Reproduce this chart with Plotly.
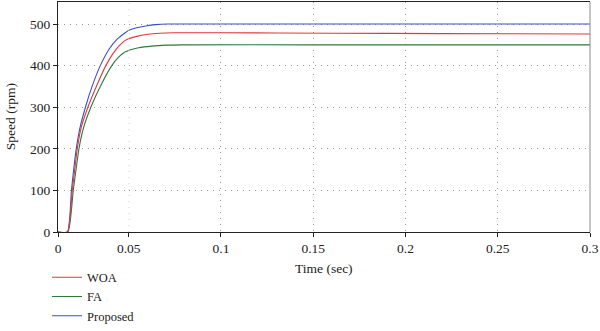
import numpy as np
import plotly.graph_objects as go

# Speed response (rpm) of the three controllers over time (s)
t_woa = [0, 0.0067, 0.0101, 0.0136, 0.0163, 0.0211, 0.0271, 0.0338, 0.0391, 0.0433, 0.0468, 0.05,
         0.0549, 0.0603, 0.0667, 0.0748, 0.1, 0.16, 0.22, 0.3]
woa = [0, 0, 100, 200, 250, 300, 350, 400, 430, 448, 459, 465,
       471, 475.5, 478, 479, 479, 478, 477, 476]

t_fa = [0, 0.0070, 0.0108, 0.0148, 0.0180, 0.0232, 0.0299, 0.0380, 0.0426, 0.0465, 0.05,
        0.0554, 0.0624, 0.0700, 0.0786, 0.15, 0.3]
fa = [0, 0, 100, 200, 250, 300, 350, 400, 420, 431, 437,
      443, 447, 449.3, 450, 450, 450]

t_prop = [0, 0.0067, 0.0095, 0.0129, 0.0155, 0.0194, 0.0241, 0.0299, 0.0362, 0.0413, 0.0463, 0.05,
          0.0543, 0.0592, 0.0646, 0.0711, 0.15, 0.3]
prop = [0, 0, 100, 200, 250, 300, 350, 400, 440, 462, 476, 485,
        491, 495.5, 498.5, 500, 500, 500]

series_names = ["WOA", "FA", "Proposed"]
series_colors = ["#e0393b", "#2e7a3b", "#3a4ec6"]
# WOA is drawn last (on top), but listed first in the legend
draw_order = [1, 2, 0]

x_ticks = [0, 0.05, 0.1, 0.15, 0.2, 0.25, 0.3]
x_ticktext = ["0", "0.05", "0.1", "0.15", "0.2", "0.25", "0.3"]
y_ticks = [0, 100, 200, 300, 400, 500]
y_ticktext = ["0", "100", "200", "300", "400", "500"]

# the time axis is split at 0.05 s: the start-up part is drawn compressed
T_SPLIT = 0.05
T_END = 0.3
SPLIT_FRAC = 71 / 534

FONT = "Liberation Serif"
FS = 13.5
GRID_COLOR = "#9a9a9a"
GRID_DASH = "1px,5px"

all_t = [t_woa, t_fa, t_prop]
all_v = [woa, fa, prop]

fig = go.Figure()
for i in draw_order:
    name, color = series_names[i], series_colors[i]
    t = np.asarray(all_t[i], float)
    v = np.asarray(all_v[i], float)
    m1 = t <= T_SPLIT
    m2 = t >= T_SPLIT
    style = dict(color=color, width=1.1, shape="spline", smoothing=0.5)
    fig.add_trace(go.Scatter(x=t[m1], y=v[m1], mode="lines", name=name,
                             legendgroup=name, legendrank=i + 1, showlegend=True,
                             line=style, xaxis="x", yaxis="y"))
    fig.add_trace(go.Scatter(x=t[m2], y=v[m2], mode="lines", name=name,
                             legendgroup=name, legendrank=i + 1, showlegend=False,
                             line=style, xaxis="x2", yaxis="y"))

axis_common = dict(showline=True, linecolor="#222", linewidth=1, ticks="outside",
                   ticklen=4, tickcolor="#222", zeroline=False, fixedrange=True,
                   ticklabeloverflow="allow",
                   tickfont=dict(family=FONT, size=FS, color="#222"))
grid = dict(showgrid=True, gridcolor=GRID_COLOR, gridwidth=1, griddash=GRID_DASH)

fig.update_layout(
    width=600, height=331,
    margin=dict(l=58, r=8, t=1, b=99),
    paper_bgcolor="white", plot_bgcolor="white",
    xaxis=dict(domain=[0, SPLIT_FRAC], range=[0, T_SPLIT], anchor="y",
               tickvals=x_ticks[:1], ticktext=x_ticktext[:1], mirror=True,
               showgrid=False, **axis_common),
    xaxis2=dict(domain=[SPLIT_FRAC, 1], range=[T_SPLIT, T_END], anchor="y",
                tickvals=x_ticks[1:], ticktext=x_ticktext[1:], mirror=True,
                **grid, **axis_common),
    yaxis=dict(range=[0, 553], anchor="x", tickvals=y_ticks, ticktext=y_ticktext,
               **grid, **axis_common),
    showlegend=True,
    legend=dict(x=-11 / 534, xanchor="left", y=-99 / 231, yanchor="bottom",
                traceorder="normal",
                bgcolor="rgba(0,0,0,0)", font=dict(family=FONT, size=12.5, color="#222"),
                itemwidth=30, tracegroupgap=0),
    annotations=[
        dict(text="Time (sec)", xref="paper", yref="paper", x=0.5, y=-37 / 231,
             xanchor="center", yanchor="middle", showarrow=False,
             font=dict(family=FONT, size=FS, color="#222")),
        dict(text="Speed (rpm)", xref="paper", yref="paper", x=-48 / 534, y=0.5,
             xanchor="center", yanchor="middle", textangle=-90, showarrow=False,
             font=dict(family=FONT, size=FS, color="#222")),
    ],
    shapes=[
        # right frame edge
        dict(type="line", xref="paper", yref="paper", x0=1, x1=1, y0=0, y1=1,
             line=dict(color="#8a8a8a", width=1)),
        # grid line at the axis split
        dict(type="line", xref="x2", yref="paper", x0=T_SPLIT, x1=T_SPLIT, y0=0, y1=1,
             line=dict(color=GRID_COLOR, width=1, dash=GRID_DASH), layer="below"),
    ],
)

fig.write_html("out.html")
